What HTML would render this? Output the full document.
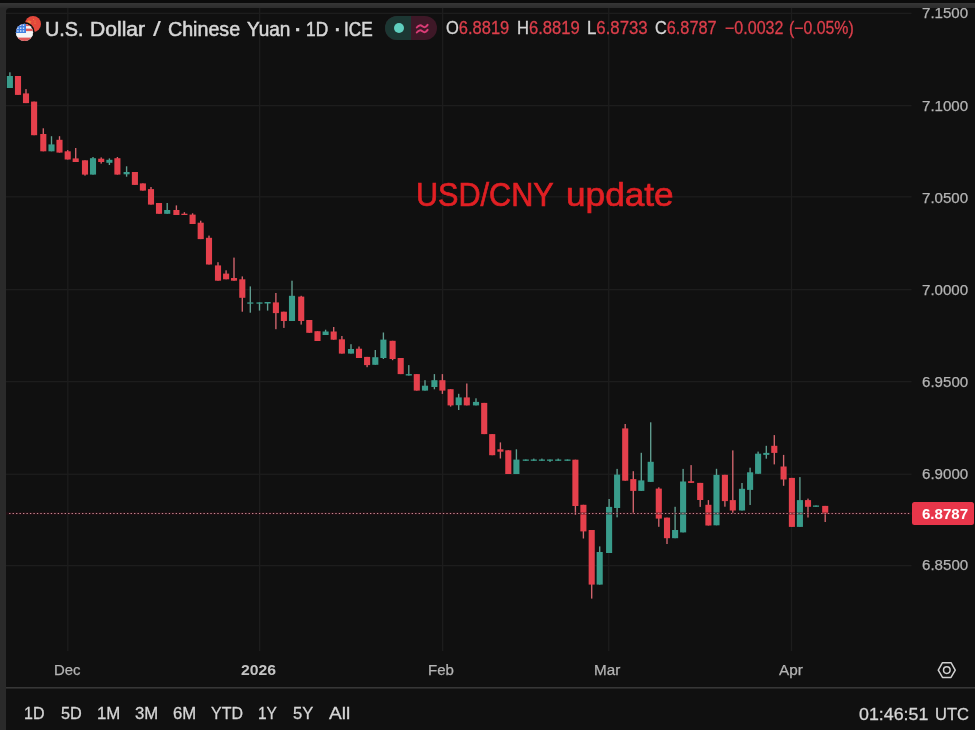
<!DOCTYPE html>
<html lang="en"><head><meta charset="utf-8"><title>USD/CNY chart</title>
<style>
html,body{margin:0;padding:0;background:#0b0b0b;}
body{width:975px;height:730px;overflow:hidden;position:relative;font-family:"Liberation Sans",sans-serif;}
.frame{position:absolute;left:0;top:3px;width:975px;height:727px;background:#2a2a2a;}
.topedge{position:absolute;left:0;top:3px;width:975px;height:5px;background:linear-gradient(#363636,#2c2c2c);}
.panel{position:absolute;left:6px;top:8px;width:969px;height:722px;background:#101010;border-top-left-radius:4px;}
.chart{position:absolute;left:0;top:0;}
.t{position:absolute;white-space:pre;line-height:1;transform-origin:0 0;}
.t b{font-weight:400;color:#d6d6d6;-webkit-text-stroke-color:#d6d6d6;}
.legend .t{-webkit-text-stroke:0.55px currentColor;}
.legend .v{-webkit-text-stroke:0.3px currentColor;}
.ranges .t,.clock .t{-webkit-text-stroke:0.3px currentColor;}
.price .t,.time .t{-webkit-text-stroke:0.25px currentColor;}
.time .t strong{font-weight:700;-webkit-text-stroke:0;}
#last{-webkit-text-stroke:0;}
#w3{-webkit-text-stroke:0.15px currentColor;}
.note .t{-webkit-text-stroke:0.7px currentColor;}
.pill{position:absolute;left:385px;top:16px;width:52px;height:24px;border-radius:12px;overflow:hidden;background:#3e1827;}
.pill .l{position:absolute;left:0;top:0;width:25.5px;height:24px;background:#1c3733;}
.pill .dot{position:absolute;left:8.6px;top:6.6px;width:10.6px;height:10.6px;border-radius:50%;background:#5fcfbf;}
.lastbox{position:absolute;left:912.3px;top:502.4px;width:62px;height:22.2px;border-radius:2.5px;background:#e8364a;}
</style></head><body>
<div class="frame"></div><div class="topedge"></div>
<div class="panel"></div>

<div class="pill"><div class="l"></div><div class="dot"></div></div>
<div class="lastbox"></div>
<svg class="chart" width="975" height="730" viewBox="0 0 975 730">
<rect x="6" y="12.75" width="905.5" height="1.3" fill="#1d1d1d"/>
<rect x="6" y="104.95" width="905.5" height="1.3" fill="#1d1d1d"/>
<rect x="6" y="196.15" width="905.5" height="1.3" fill="#1d1d1d"/>
<rect x="6" y="288.95" width="905.5" height="1.3" fill="#1d1d1d"/>
<rect x="6" y="380.95" width="905.5" height="1.3" fill="#1d1d1d"/>
<rect x="6" y="473.65" width="905.5" height="1.3" fill="#1d1d1d"/>
<rect x="6" y="564.95" width="905.5" height="1.3" fill="#1d1d1d"/>
<rect x="67.15" y="8" width="1.3" height="643" fill="#1d1d1d"/>
<rect x="258.95" y="8" width="1.3" height="643" fill="#1d1d1d"/>
<rect x="441.95" y="8" width="1.3" height="643" fill="#1d1d1d"/>
<rect x="608.05" y="8" width="1.3" height="643" fill="#1d1d1d"/>
<rect x="790.85" y="8" width="1.3" height="643" fill="#1d1d1d"/>
<rect x="6" y="687.1" width="969" height="1.4" fill="#3c3c3c"/>
<rect x="9.22" y="72.30" width="1.35" height="15.70" fill="#62a092"/>
<rect x="6.85" y="76.00" width="6.10" height="12.00" fill="#399c8b"/>
<rect x="17.32" y="76.00" width="1.35" height="18.90" fill="#d4666f"/>
<rect x="14.95" y="76.00" width="6.10" height="18.90" fill="#e5404c"/>
<rect x="25.32" y="89.10" width="1.35" height="14.00" fill="#d4666f"/>
<rect x="22.95" y="93.40" width="6.10" height="9.70" fill="#e5404c"/>
<rect x="33.43" y="101.60" width="1.35" height="33.60" fill="#d4666f"/>
<rect x="31.05" y="101.60" width="6.10" height="33.60" fill="#e5404c"/>
<rect x="42.62" y="128.30" width="1.35" height="23.00" fill="#d4666f"/>
<rect x="40.25" y="134.00" width="6.10" height="17.30" fill="#e5404c"/>
<rect x="50.83" y="136.20" width="1.35" height="15.10" fill="#62a092"/>
<rect x="48.45" y="144.40" width="6.10" height="6.90" fill="#399c8b"/>
<rect x="58.83" y="136.20" width="1.35" height="16.40" fill="#d4666f"/>
<rect x="56.45" y="139.80" width="6.10" height="12.80" fill="#e5404c"/>
<rect x="67.03" y="150.10" width="1.35" height="9.40" fill="#d4666f"/>
<rect x="64.65" y="151.30" width="6.10" height="8.20" fill="#e5404c"/>
<rect x="75.03" y="148.00" width="1.35" height="14.00" fill="#d4666f"/>
<rect x="72.65" y="158.40" width="6.10" height="3.60" fill="#e5404c"/>
<rect x="84.33" y="160.30" width="1.35" height="15.30" fill="#d4666f"/>
<rect x="81.95" y="160.30" width="6.10" height="14.30" fill="#e5404c"/>
<rect x="92.33" y="157.00" width="1.35" height="17.60" fill="#62a092"/>
<rect x="89.95" y="158.20" width="6.10" height="16.40" fill="#399c8b"/>
<rect x="100.53" y="157.40" width="1.35" height="6.20" fill="#d4666f"/>
<rect x="98.15" y="158.70" width="6.10" height="3.30" fill="#e5404c"/>
<rect x="108.73" y="158.40" width="1.35" height="6.60" fill="#62a092"/>
<rect x="106.35" y="159.80" width="6.10" height="3.00" fill="#399c8b"/>
<rect x="116.73" y="157.00" width="1.35" height="17.60" fill="#d4666f"/>
<rect x="114.35" y="158.20" width="6.10" height="16.40" fill="#e5404c"/>
<rect x="125.92" y="166.30" width="1.35" height="10.40" fill="#62a092"/>
<rect x="123.55" y="172.00" width="6.10" height="2.30" fill="#399c8b"/>
<rect x="134.22" y="172.00" width="1.35" height="12.90" fill="#d4666f"/>
<rect x="131.85" y="172.00" width="6.10" height="12.90" fill="#e5404c"/>
<rect x="142.22" y="183.40" width="1.35" height="7.20" fill="#d4666f"/>
<rect x="139.85" y="183.40" width="6.10" height="7.20" fill="#e5404c"/>
<rect x="150.32" y="187.00" width="1.35" height="17.60" fill="#d4666f"/>
<rect x="147.95" y="189.10" width="6.10" height="15.50" fill="#e5404c"/>
<rect x="158.32" y="203.00" width="1.35" height="10.80" fill="#d4666f"/>
<rect x="155.95" y="203.00" width="6.10" height="10.80" fill="#e5404c"/>
<rect x="166.52" y="203.00" width="1.35" height="10.80" fill="#62a092"/>
<rect x="164.15" y="210.00" width="6.10" height="3.80" fill="#399c8b"/>
<rect x="175.72" y="205.40" width="1.35" height="9.60" fill="#d4666f"/>
<rect x="173.35" y="210.00" width="6.10" height="5.00" fill="#e5404c"/>
<rect x="183.72" y="212.20" width="1.35" height="2.80" fill="#d4666f"/>
<rect x="181.35" y="213.70" width="6.10" height="1.30" fill="#e5404c"/>
<rect x="191.92" y="213.30" width="1.35" height="10.70" fill="#d4666f"/>
<rect x="189.55" y="214.60" width="6.10" height="9.40" fill="#e5404c"/>
<rect x="200.02" y="220.70" width="1.35" height="18.40" fill="#d4666f"/>
<rect x="197.65" y="222.70" width="6.10" height="16.40" fill="#e5404c"/>
<rect x="208.32" y="235.60" width="1.35" height="28.90" fill="#d4666f"/>
<rect x="205.95" y="237.80" width="6.10" height="26.70" fill="#e5404c"/>
<rect x="217.32" y="262.20" width="1.35" height="18.50" fill="#d4666f"/>
<rect x="214.95" y="265.40" width="6.10" height="15.30" fill="#e5404c"/>
<rect x="225.42" y="270.30" width="1.35" height="9.00" fill="#d4666f"/>
<rect x="223.05" y="273.60" width="6.10" height="5.70" fill="#e5404c"/>
<rect x="233.32" y="257.60" width="1.35" height="23.10" fill="#d4666f"/>
<rect x="230.95" y="278.00" width="6.10" height="2.70" fill="#e5404c"/>
<rect x="241.62" y="276.40" width="1.35" height="35.30" fill="#d4666f"/>
<rect x="239.25" y="279.30" width="6.10" height="18.50" fill="#e5404c"/>
<rect x="249.62" y="286.40" width="1.35" height="26.30" fill="#62a092"/>
<rect x="247.25" y="302.40" width="6.10" height="1.30" fill="#399c8b"/>
<rect x="258.82" y="302.40" width="1.35" height="8.20" fill="#62a092"/>
<rect x="256.45" y="302.40" width="6.10" height="1.30" fill="#399c8b"/>
<rect x="266.93" y="302.00" width="1.35" height="8.60" fill="#62a092"/>
<rect x="264.55" y="302.00" width="6.10" height="1.50" fill="#399c8b"/>
<rect x="275.22" y="293.00" width="1.35" height="36.20" fill="#d4666f"/>
<rect x="272.85" y="302.40" width="6.10" height="10.70" fill="#e5404c"/>
<rect x="283.22" y="311.70" width="1.35" height="16.20" fill="#d4666f"/>
<rect x="280.85" y="311.70" width="6.10" height="9.30" fill="#e5404c"/>
<rect x="291.32" y="280.70" width="1.35" height="40.30" fill="#62a092"/>
<rect x="288.95" y="295.80" width="6.10" height="25.20" fill="#399c8b"/>
<rect x="300.52" y="295.80" width="1.35" height="28.80" fill="#d4666f"/>
<rect x="298.15" y="296.60" width="6.10" height="24.40" fill="#e5404c"/>
<rect x="308.62" y="320.00" width="1.35" height="12.80" fill="#d4666f"/>
<rect x="306.25" y="320.00" width="6.10" height="12.80" fill="#e5404c"/>
<rect x="316.82" y="331.20" width="1.35" height="9.80" fill="#d4666f"/>
<rect x="314.45" y="331.20" width="6.10" height="9.80" fill="#e5404c"/>
<rect x="324.93" y="329.70" width="1.35" height="5.30" fill="#62a092"/>
<rect x="322.55" y="331.50" width="6.10" height="3.50" fill="#399c8b"/>
<rect x="333.02" y="327.00" width="1.35" height="12.70" fill="#d4666f"/>
<rect x="330.65" y="331.50" width="6.10" height="8.20" fill="#e5404c"/>
<rect x="341.22" y="336.00" width="1.35" height="17.60" fill="#d4666f"/>
<rect x="338.85" y="339.30" width="6.10" height="14.30" fill="#e5404c"/>
<rect x="350.32" y="344.20" width="1.35" height="9.40" fill="#62a092"/>
<rect x="347.95" y="349.00" width="6.10" height="4.60" fill="#399c8b"/>
<rect x="358.32" y="346.50" width="1.35" height="11.50" fill="#d4666f"/>
<rect x="355.95" y="348.70" width="6.10" height="9.30" fill="#e5404c"/>
<rect x="366.43" y="356.90" width="1.35" height="10.30" fill="#d4666f"/>
<rect x="364.05" y="356.90" width="6.10" height="8.20" fill="#e5404c"/>
<rect x="374.62" y="350.00" width="1.35" height="14.80" fill="#62a092"/>
<rect x="372.25" y="357.20" width="6.10" height="7.60" fill="#399c8b"/>
<rect x="382.72" y="332.50" width="1.35" height="26.50" fill="#62a092"/>
<rect x="380.35" y="339.60" width="6.10" height="18.40" fill="#399c8b"/>
<rect x="391.93" y="340.80" width="1.35" height="19.40" fill="#d4666f"/>
<rect x="389.55" y="340.80" width="6.10" height="18.20" fill="#e5404c"/>
<rect x="400.02" y="358.00" width="1.35" height="16.10" fill="#d4666f"/>
<rect x="397.65" y="358.00" width="6.10" height="16.10" fill="#e5404c"/>
<rect x="408.12" y="365.10" width="1.35" height="10.40" fill="#62a092"/>
<rect x="405.75" y="374.10" width="6.10" height="1.40" fill="#399c8b"/>
<rect x="416.12" y="374.10" width="1.35" height="16.50" fill="#d4666f"/>
<rect x="413.75" y="374.10" width="6.10" height="16.50" fill="#e5404c"/>
<rect x="424.32" y="380.20" width="1.35" height="10.40" fill="#62a092"/>
<rect x="421.95" y="385.70" width="6.10" height="4.90" fill="#399c8b"/>
<rect x="433.72" y="374.10" width="1.35" height="15.20" fill="#62a092"/>
<rect x="431.35" y="380.20" width="6.10" height="6.80" fill="#399c8b"/>
<rect x="441.72" y="374.10" width="1.35" height="19.80" fill="#d4666f"/>
<rect x="439.35" y="380.20" width="6.10" height="10.40" fill="#e5404c"/>
<rect x="449.93" y="389.20" width="1.35" height="17.40" fill="#d4666f"/>
<rect x="447.55" y="389.20" width="6.10" height="16.20" fill="#e5404c"/>
<rect x="458.02" y="393.80" width="1.35" height="16.20" fill="#62a092"/>
<rect x="455.65" y="397.40" width="6.10" height="7.80" fill="#399c8b"/>
<rect x="466.12" y="383.50" width="1.35" height="21.90" fill="#d4666f"/>
<rect x="463.75" y="397.40" width="6.10" height="8.00" fill="#e5404c"/>
<rect x="475.32" y="398.30" width="1.35" height="7.10" fill="#62a092"/>
<rect x="472.95" y="401.90" width="6.10" height="3.50" fill="#399c8b"/>
<rect x="483.52" y="402.90" width="1.35" height="31.20" fill="#d4666f"/>
<rect x="481.15" y="402.90" width="6.10" height="31.20" fill="#e5404c"/>
<rect x="491.52" y="434.10" width="1.35" height="21.10" fill="#d4666f"/>
<rect x="489.15" y="434.10" width="6.10" height="21.10" fill="#e5404c"/>
<rect x="499.72" y="442.40" width="1.35" height="16.10" fill="#d4666f"/>
<rect x="497.35" y="449.30" width="6.10" height="2.40" fill="#e5404c"/>
<rect x="507.62" y="450.30" width="1.35" height="23.70" fill="#d4666f"/>
<rect x="505.25" y="450.30" width="6.10" height="23.70" fill="#e5404c"/>
<rect x="515.73" y="449.30" width="1.35" height="24.70" fill="#62a092"/>
<rect x="513.35" y="459.60" width="6.10" height="14.40" fill="#399c8b"/>
<rect x="525.12" y="459.50" width="1.35" height="1.30" fill="#62a092"/>
<rect x="522.75" y="459.50" width="6.10" height="1.30" fill="#399c8b"/>
<rect x="533.12" y="458.60" width="1.35" height="2.20" fill="#62a092"/>
<rect x="530.75" y="459.50" width="6.10" height="1.30" fill="#399c8b"/>
<rect x="541.23" y="458.60" width="1.35" height="2.20" fill="#62a092"/>
<rect x="538.85" y="459.50" width="6.10" height="1.30" fill="#399c8b"/>
<rect x="549.33" y="459.50" width="1.35" height="2.40" fill="#62a092"/>
<rect x="546.95" y="459.50" width="6.10" height="1.30" fill="#399c8b"/>
<rect x="557.53" y="458.60" width="1.35" height="2.20" fill="#62a092"/>
<rect x="555.15" y="459.50" width="6.10" height="1.30" fill="#399c8b"/>
<rect x="566.83" y="459.50" width="1.35" height="1.30" fill="#62a092"/>
<rect x="564.45" y="459.50" width="6.10" height="1.30" fill="#399c8b"/>
<rect x="574.73" y="459.70" width="1.35" height="55.30" fill="#d4666f"/>
<rect x="572.35" y="459.70" width="6.10" height="46.30" fill="#e5404c"/>
<rect x="582.73" y="504.80" width="1.35" height="33.70" fill="#d4666f"/>
<rect x="580.35" y="504.80" width="6.10" height="26.60" fill="#e5404c"/>
<rect x="591.03" y="530.00" width="1.35" height="68.60" fill="#d4666f"/>
<rect x="588.65" y="530.00" width="6.10" height="54.60" fill="#e5404c"/>
<rect x="599.03" y="546.40" width="1.35" height="38.20" fill="#62a092"/>
<rect x="596.65" y="552.00" width="6.10" height="32.60" fill="#399c8b"/>
<rect x="608.43" y="499.00" width="1.35" height="54.00" fill="#62a092"/>
<rect x="606.05" y="506.90" width="6.10" height="46.10" fill="#399c8b"/>
<rect x="616.43" y="468.90" width="1.35" height="48.40" fill="#62a092"/>
<rect x="614.05" y="474.60" width="6.10" height="33.40" fill="#399c8b"/>
<rect x="624.53" y="424.00" width="1.35" height="56.70" fill="#d4666f"/>
<rect x="622.15" y="428.40" width="6.10" height="52.30" fill="#e5404c"/>
<rect x="632.62" y="471.20" width="1.35" height="42.50" fill="#d4666f"/>
<rect x="630.25" y="479.10" width="6.10" height="11.80" fill="#e5404c"/>
<rect x="640.62" y="452.80" width="1.35" height="38.10" fill="#62a092"/>
<rect x="638.25" y="480.40" width="6.10" height="10.50" fill="#399c8b"/>
<rect x="650.03" y="422.30" width="1.35" height="59.60" fill="#62a092"/>
<rect x="647.65" y="461.80" width="6.10" height="20.10" fill="#399c8b"/>
<rect x="658.12" y="487.30" width="1.35" height="39.50" fill="#d4666f"/>
<rect x="655.75" y="488.60" width="6.10" height="30.00" fill="#e5404c"/>
<rect x="666.33" y="517.60" width="1.35" height="26.40" fill="#d4666f"/>
<rect x="663.95" y="517.60" width="6.10" height="20.60" fill="#e5404c"/>
<rect x="674.43" y="506.80" width="1.35" height="31.40" fill="#62a092"/>
<rect x="672.05" y="530.00" width="6.10" height="8.20" fill="#399c8b"/>
<rect x="682.43" y="468.90" width="1.35" height="63.50" fill="#62a092"/>
<rect x="680.05" y="481.50" width="6.10" height="50.90" fill="#399c8b"/>
<rect x="690.43" y="465.10" width="1.35" height="17.80" fill="#d4666f"/>
<rect x="688.05" y="481.20" width="6.10" height="1.70" fill="#e5404c"/>
<rect x="699.53" y="482.90" width="1.35" height="24.00" fill="#d4666f"/>
<rect x="697.15" y="482.90" width="6.10" height="17.10" fill="#e5404c"/>
<rect x="707.73" y="500.10" width="1.35" height="25.40" fill="#d4666f"/>
<rect x="705.35" y="504.80" width="6.10" height="20.70" fill="#e5404c"/>
<rect x="715.83" y="468.80" width="1.35" height="56.50" fill="#62a092"/>
<rect x="713.45" y="474.90" width="6.10" height="50.40" fill="#399c8b"/>
<rect x="724.23" y="474.80" width="1.35" height="31.90" fill="#d4666f"/>
<rect x="721.85" y="474.80" width="6.10" height="26.30" fill="#e5404c"/>
<rect x="732.12" y="450.40" width="1.35" height="62.90" fill="#d4666f"/>
<rect x="729.75" y="500.10" width="6.10" height="10.40" fill="#e5404c"/>
<rect x="741.33" y="483.00" width="1.35" height="27.50" fill="#62a092"/>
<rect x="738.95" y="488.80" width="6.10" height="21.70" fill="#399c8b"/>
<rect x="749.43" y="467.70" width="1.35" height="37.30" fill="#62a092"/>
<rect x="747.05" y="472.30" width="6.10" height="17.60" fill="#399c8b"/>
<rect x="757.43" y="451.60" width="1.35" height="22.20" fill="#62a092"/>
<rect x="755.05" y="453.70" width="6.10" height="20.10" fill="#399c8b"/>
<rect x="765.62" y="445.80" width="1.35" height="12.90" fill="#62a092"/>
<rect x="763.25" y="452.90" width="6.10" height="2.00" fill="#399c8b"/>
<rect x="773.62" y="435.10" width="1.35" height="29.30" fill="#d4666f"/>
<rect x="771.25" y="445.80" width="6.10" height="7.10" fill="#e5404c"/>
<rect x="782.93" y="454.90" width="1.35" height="30.90" fill="#d4666f"/>
<rect x="780.55" y="466.50" width="6.10" height="13.00" fill="#e5404c"/>
<rect x="791.23" y="477.90" width="1.35" height="49.00" fill="#d4666f"/>
<rect x="788.85" y="477.90" width="6.10" height="49.00" fill="#e5404c"/>
<rect x="799.23" y="477.10" width="1.35" height="49.80" fill="#62a092"/>
<rect x="796.85" y="500.10" width="6.10" height="26.80" fill="#399c8b"/>
<rect x="807.33" y="498.60" width="1.35" height="18.90" fill="#d4666f"/>
<rect x="804.95" y="500.10" width="6.10" height="6.70" fill="#e5404c"/>
<rect x="815.33" y="505.50" width="1.35" height="1.30" fill="#62a092"/>
<rect x="812.95" y="505.50" width="6.10" height="1.30" fill="#399c8b"/>
<rect x="824.53" y="505.90" width="1.35" height="16.10" fill="#d4666f"/>
<rect x="822.15" y="505.90" width="6.10" height="7.90" fill="#e5404c"/>
<rect x="6" y="512.3" width="906" height="2.4" fill="#3a0c18" opacity="0.45"/>
<line x1="9.12" y1="513.5" x2="909.6" y2="513.5" stroke="#c98a92" stroke-width="1.2" stroke-dasharray="1.35 2.12"/>
<polygon points="955.25,670.10 951.00,677.46 942.50,677.46 938.25,670.10 942.50,662.74 951.00,662.74" fill="none" stroke="#d0d0d0" stroke-width="1.5" stroke-linejoin="round"/>
<circle cx="946.8" cy="670.1" r="3.3" fill="none" stroke="#d0d0d0" stroke-width="1.5"/>
<g>
<circle cx="33" cy="24" r="8" fill="#e4483c"/>
<path d="M29 19.6l.8 1.7 1.8.2-1.3 1.3.3 1.8-1.6-.9-1.6.9.3-1.8-1.3-1.3 1.8-.2z" fill="#f0a040" opacity="0.75"/><circle cx="33.6" cy="19.3" r="0.6" fill="#f0a040" opacity="0.7"/><circle cx="35" cy="21" r="0.6" fill="#f0a040" opacity="0.7"/><circle cx="35" cy="23.2" r="0.6" fill="#f0a040" opacity="0.7"/>
<circle cx="24.5" cy="32.3" r="10.2" fill="#101010"/>
<clipPath id="us"><circle cx="24.5" cy="32.3" r="8.6"/></clipPath>
<g clip-path="url(#us)">
<rect x="15" y="23" width="20" height="19" fill="#f4f4f4"/>
<rect x="15" y="23.6" width="20" height="2.5" fill="#e05a5a"/>
<rect x="15" y="28.6" width="20" height="2.5" fill="#e05a5a"/>
<rect x="15" y="33.6" width="20" height="2.5" fill="#f4f4f4"/>
<rect x="15" y="37.6" width="20" height="4" fill="#e05a5a"/>
<rect x="15" y="23" width="11" height="10" fill="#3f7fe0"/>
<g fill="#dfe9fb"><rect x="17.2" y="24.5" width="1.4" height="1.4"/><rect x="20" y="24.5" width="1.4" height="1.4"/><rect x="22.8" y="24.5" width="1.4" height="1.4"/><rect x="17.2" y="27.5" width="1.4" height="1.4"/><rect x="20" y="27.5" width="1.4" height="1.4"/><rect x="22.8" y="27.5" width="1.4" height="1.4"/><rect x="17.2" y="30.3" width="1.4" height="1.4"/><rect x="20" y="30.3" width="1.4" height="1.4"/><rect x="22.8" y="30.3" width="1.4" height="1.4"/></g>
</g></g>
<g fill="none" stroke="#d93c76" stroke-width="2" stroke-linecap="round" transform="translate(0.2,0.9)"><path d="M416.6 26.6c2-2.6 3.8-2.6 5.6-1.2s3.4 1.2 5.2-1.4"/><path d="M416.6 31.6c2-2.6 3.8-2.6 5.6-1.2s3.4 1.2 5.2-1.4"/></g>
</svg>
<div class="legend">
<div class="t" id="w1" style="left:45.02px;top:18.76px;font-size:20.25px;color:#d6d6d6;font-weight:400;transform:scaleX(0.9792)">U.S.</div>
<div class="t" id="w2" style="left:90.49px;top:18.76px;font-size:20.25px;color:#d6d6d6;font-weight:400;transform:scaleX(1.0424)">Dollar</div>
<div class="t" id="w3" style="left:152.51px;top:18.76px;font-size:20.25px;color:#d6d6d6;font-weight:400;transform:scaleX(1.3861)">/</div>
<div class="t" id="w4" style="left:168.25px;top:18.76px;font-size:20.25px;color:#d6d6d6;font-weight:400;transform:scaleX(0.9704)">Chinese</div>
<div class="t" id="w5" style="left:246.52px;top:18.76px;font-size:20.25px;color:#d6d6d6;font-weight:400;transform:scaleX(0.9387)">Yuan</div>
<div class="t" id="dot1" style="left:295.42px;top:20.58px;font-size:18.50px;color:#d6d6d6;font-weight:700;transform:scaleX(1.0132)">·</div>
<div class="t" id="w6" style="left:305.93px;top:18.76px;font-size:20.25px;color:#d6d6d6;font-weight:400;transform:scaleX(0.8554)">1D</div>
<div class="t" id="dot2" style="left:334.98px;top:20.89px;font-size:18.50px;color:#d6d6d6;font-weight:700;transform:scaleX(0.9026)">·</div>
<div class="t" id="w7" style="left:344.19px;top:18.76px;font-size:20.25px;color:#d6d6d6;font-weight:400;transform:scaleX(0.8491)">ICE</div>
<div class="t v" id="o" style="left:446.32px;top:20.08px;font-size:17.45px;color:#dc3f4b;font-weight:400;transform:scaleX(0.9449)"><b>O</b>6.8819</div>
<div class="t v" id="h" style="left:516.68px;top:20.08px;font-size:17.45px;color:#dc3f4b;font-weight:400;transform:scaleX(0.9524)"><b>H</b>6.8819</div>
<div class="t v" id="l" style="left:586.68px;top:20.08px;font-size:17.45px;color:#dc3f4b;font-weight:400;transform:scaleX(0.9629)"><b>L</b>6.8733</div>
<div class="t v" id="c" style="left:655.29px;top:20.08px;font-size:17.45px;color:#dc3f4b;font-weight:400;transform:scaleX(0.9343)"><b>C</b>6.8787</div>
<div class="t v" id="chg" style="left:725.07px;top:20.08px;font-size:17.45px;color:#dc3f4b;font-weight:400;transform:scaleX(0.9198)">−0.0032</div>
<div class="t v" id="pct" style="left:789.16px;top:20.08px;font-size:17.45px;color:#dc3f4b;font-weight:400;transform:scaleX(0.9078)">(−0.05%)</div>
</div>
<div class="note">
<div class="t" id="note1" style="left:415.71px;top:179.17px;font-size:32.40px;color:#e02024;font-weight:400;transform:scaleX(0.9447)">USD/CNY</div>
<div class="t" id="note2" style="left:566.17px;top:179.17px;font-size:32.40px;color:#e02024;font-weight:400;transform:scaleX(1.0862)">update</div>
</div>
<div class="time">
<div class="t" id="tDec" style="left:53.94px;top:662.53px;font-size:14.85px;color:#b4b4b4;font-weight:400;transform:scaleX(1.0046)">Dec</div>
<div class="t" id="t2026" style="left:240.57px;top:662.53px;font-size:14.85px;color:#c4c4c4;font-weight:400;transform:scaleX(1.0611)"><strong>2026</strong></div>
<div class="t" id="tFeb" style="left:428.36px;top:662.53px;font-size:14.85px;color:#b4b4b4;font-weight:400;transform:scaleX(1.0118)">Feb</div>
<div class="t" id="tMar" style="left:594.38px;top:662.53px;font-size:14.85px;color:#b4b4b4;font-weight:400;transform:scaleX(1.0252)">Mar</div>
<div class="t" id="tApr" style="left:779.00px;top:662.53px;font-size:14.85px;color:#b4b4b4;font-weight:400;transform:scaleX(1.0304)">Apr</div>
</div>
<div class="ranges">
<div class="t" id="r1D" style="left:23.98px;top:706.19px;font-size:16.90px;color:#d6d6d6;font-weight:400;transform:scaleX(0.9487)">1D</div>
<div class="t" id="r5D" style="left:60.79px;top:706.19px;font-size:16.90px;color:#d6d6d6;font-weight:400;transform:scaleX(0.9642)">5D</div>
<div class="t" id="r1M" style="left:97.00px;top:706.19px;font-size:16.90px;color:#d6d6d6;font-weight:400;transform:scaleX(0.9948)">1M</div>
<div class="t" id="r3M" style="left:134.92px;top:706.19px;font-size:16.90px;color:#d6d6d6;font-weight:400;transform:scaleX(0.9905)">3M</div>
<div class="t" id="r6M" style="left:172.62px;top:706.19px;font-size:16.90px;color:#d6d6d6;font-weight:400;transform:scaleX(0.9881)">6M</div>
<div class="t" id="rYTD" style="left:210.66px;top:706.19px;font-size:16.90px;color:#d6d6d6;font-weight:400;transform:scaleX(0.9444)">YTD</div>
<div class="t" id="r1Y" style="left:258.20px;top:706.19px;font-size:16.90px;color:#d6d6d6;font-weight:400;transform:scaleX(0.9158)">1Y</div>
<div class="t" id="r5Y" style="left:293.45px;top:706.19px;font-size:16.90px;color:#d6d6d6;font-weight:400;transform:scaleX(0.9818)">5Y</div>
<div class="t" id="rAll" style="left:328.56px;top:706.19px;font-size:16.90px;color:#d6d6d6;font-weight:400;transform:scaleX(1.1293)">All</div>
</div>
<div class="clock">
<div class="t" id="clock1" style="left:859.04px;top:705.76px;font-size:17.30px;color:#d6d6d6;font-weight:400;transform:scaleX(1.0299)">01:46:51</div>
<div class="t" id="clock2" style="left:934.67px;top:705.76px;font-size:17.30px;color:#d6d6d6;font-weight:400;transform:scaleX(0.9545)">UTC</div>
</div>
<div class="price">
<div class="t" id="last" style="left:921.68px;top:507.33px;font-size:14.85px;color:#ffffff;font-weight:700;transform:scaleX(1.0142)">6.8787</div>
<div class="t" id="p0" style="left:921.73px;top:6.38px;font-size:14.85px;color:#b4b4b4;font-weight:400;transform:scaleX(1.0162)">7.1500</div>
<div class="t" id="p1" style="left:921.73px;top:98.68px;font-size:14.85px;color:#b4b4b4;font-weight:400;transform:scaleX(1.0162)">7.1000</div>
<div class="t" id="p2" style="left:921.73px;top:191.28px;font-size:14.85px;color:#b4b4b4;font-weight:400;transform:scaleX(1.0162)">7.0500</div>
<div class="t" id="p3" style="left:921.73px;top:282.53px;font-size:14.85px;color:#b4b4b4;font-weight:400;transform:scaleX(1.0162)">7.0000</div>
<div class="t" id="p4" style="left:921.70px;top:374.53px;font-size:14.85px;color:#b4b4b4;font-weight:400;transform:scaleX(1.0168)">6.9500</div>
<div class="t" id="p5" style="left:921.70px;top:467.33px;font-size:14.85px;color:#b4b4b4;font-weight:400;transform:scaleX(1.0168)">6.9000</div>
<div class="t" id="p6" style="left:921.70px;top:558.43px;font-size:14.85px;color:#b4b4b4;font-weight:400;transform:scaleX(1.0168)">6.8500</div>
</div>
</body></html>
